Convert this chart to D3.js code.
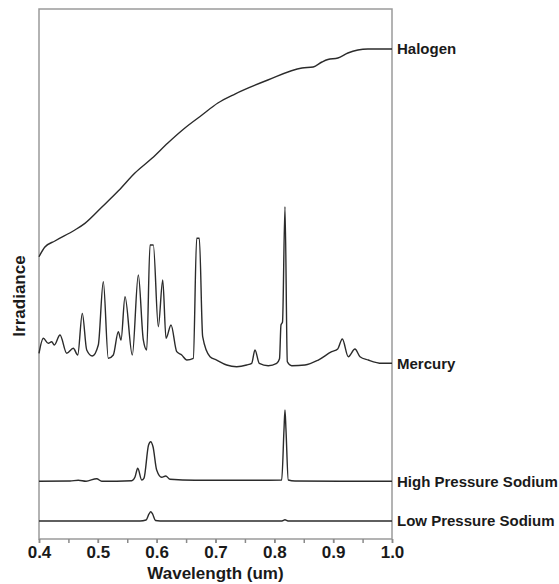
<!DOCTYPE html>
<html>
<head>
<meta charset="utf-8">
<script src="https://cdn.jsdelivr.net/npm/d3@7/dist/d3.min.js"></script>
<style>
  html, body { margin: 0; padding: 0; background: #fff; }
  svg { display: block; }
  text { font-family: "Liberation Sans", Arial, Helvetica, sans-serif; font-weight: bold; fill: #1a1a1a; }
</style>
</head>
<body>
<svg id="chart" width="559" height="584"></svg>
<script>
// ---------- data (wavelength in um, irradiance in stacked arbitrary units) ----------
const xTicks = [0.4, 0.5, 0.6, 0.7, 0.8, 0.9, 1.0];
const xTickLabels = ["0.4", "0.5", "0.6", "0.7", "0.8", "0.9", "1.0"];
const seriesNames = ["Halogen", "Mercury", "High Pressure Sodium", "Low Pressure Sodium"];

const halogenWl  = [0.400,0.410,0.427,0.461,0.478,0.507,0.535,0.563,0.592,0.619,0.648,0.677,0.704,0.733,0.789,0.847,0.866,0.881,0.891,0.908,0.925,0.959,1.000];
const halogenVal = [53.26,55.09,56.23,58.30,59.55,62.64,65.70,69.06,71.83,74.72,77.55,80.00,82.26,83.96,86.60,88.87,89.06,90.00,90.47,90.75,91.70,92.45,92.45];

const mercuryWl  = [0.4000,0.4073,0.4158,0.4216,0.4260,0.4357,0.4471,0.4583,0.4658,0.4736,0.4811,0.4906,0.5008,0.5093,0.5178,0.5263,0.5348,0.5394,0.5462,0.5586,0.5688,0.5773,0.5831,0.5887,0.5943,0.6028,0.6103,0.6159,0.6244,0.6341,0.6426,0.6511,0.6623,0.6680,0.6725,0.6782,0.6907,0.7020,0.7190,0.7360,0.7530,0.7615,0.7671,0.7744,0.7897,0.8040,0.8088,0.8113,0.8139,0.8181,0.8221,0.8295,0.8521,0.8747,0.8975,0.9077,0.9155,0.9257,0.9371,0.9456,0.9597,0.9825,1.0000];
const mercuryVal = [35.04,37.87,36.92,37.23,36.60,38.49,35.04,35.98,34.72,42.58,35.66,34.53,36.60,48.55,34.09,34.72,39.11,37.55,45.72,34.72,49.81,37.55,35.66,55.47,55.47,40.06,48.87,37.87,40.38,35.34,34.72,33.77,34.09,56.74,56.74,38.17,34.40,33.77,32.83,32.51,32.83,33.15,35.66,33.15,32.70,33.15,34.00,40.38,40.94,62.70,33.45,32.70,32.83,33.77,35.34,35.85,37.74,34.40,35.85,34.40,33.77,33.15,33.15];

const hpsWl  = [0.4000,0.4527,0.4668,0.4799,0.4981,0.5066,0.5576,0.5632,0.5678,0.5746,0.5785,0.5861,0.5899,0.5938,0.6000,0.6086,0.6154,0.6227,0.6652,0.7247,0.7672,0.8125,0.8164,0.8181,0.8198,0.8237,0.8351,0.9116,1.0000];
const hpsVal = [10.89,10.94,11.09,10.90,11.38,10.89,11.00,11.70,13.34,11.13,11.50,17.70,18.36,17.40,13.02,11.64,11.89,11.26,11.08,11.08,11.08,11.13,20.60,24.34,20.60,11.13,10.94,10.89,10.89];

const lpsWl  = [0.4000,0.5717,0.5819,0.5870,0.5899,0.5930,0.5980,0.6057,0.8130,0.8181,0.8232,1.0000];
const lpsVal = [3.40,3.40,3.58,4.72,5.15,4.72,3.49,3.40,3.40,3.62,3.40,3.40];

const seriesWl  = [halogenWl, mercuryWl, hpsWl, lpsWl];
const seriesVal = [halogenVal, mercuryVal, hpsVal, lpsVal];

// ---------- layout ----------
const svg = d3.select("#chart");
const mLeft = 39, mRight = 392, mTop = 9, mBottom = 539;

const x = d3.scaleLinear().domain([0.4, 1.0]).range([mLeft, mRight]);
const y = d3.scaleLinear().domain([0, 100]).range([mBottom, mTop]);

// frame
svg.append("rect")
  .attr("x", mLeft).attr("y", mTop)
  .attr("width", mRight - mLeft).attr("height", mBottom - mTop)
  .attr("fill", "none").attr("stroke", "#9a9a9a").attr("stroke-width", 1.5);

// x axis: minor ticks
const minorTicks = d3.range(0.4, 1.0001, 0.05);
const gx = svg.append("g").attr("transform", `translate(0,${mBottom})`)
  .call(d3.axisBottom(x).tickValues(minorTicks).tickSize(4).tickFormat(""));
gx.select(".domain").remove();
gx.selectAll(".tick line").attr("stroke", "#8a8a8a").attr("stroke-width", 1.5);

// x axis: major ticks + labels
const gxl = svg.append("g").attr("transform", `translate(0,${mBottom})`)
  .call(d3.axisBottom(x).tickValues(xTicks).tickSize(4).tickPadding(3)
    .tickFormat((d, i) => xTickLabels[i]));
gxl.select(".domain").remove();
gxl.selectAll(".tick line").attr("stroke", "#8a8a8a").attr("stroke-width", 1.5);
gxl.selectAll(".tick text")
  .attr("font-size", 17).attr("font-family", "Liberation Sans, Arial, sans-serif")
  .attr("font-weight", "bold").attr("fill", "#1a1a1a");

// axis titles
svg.append("text")
  .attr("x", (mLeft + mRight) / 2).attr("y", 579)
  .attr("text-anchor", "middle").attr("font-size", 17)
  .text("Wavelength (um)");

svg.append("text")
  .attr("transform", "translate(25,296) rotate(-90)")
  .attr("text-anchor", "middle").attr("font-size", 17)
  .text("Irradiance");

// curves
const line = d3.line()
  .x(d => x(d[0])).y(d => y(d[1]))
  .curve(d3.curveMonotoneX);

seriesNames.forEach((name, i) => {
  const pts = seriesWl[i].map((w, j) => [w, seriesVal[i][j]]);
  svg.append("path")
    .datum(pts)
    .attr("d", line)
    .attr("fill", "none")
    .attr("stroke", "#2b2b2b")
    .attr("stroke-width", 1.4)
    .attr("stroke-linejoin", "round");
  const last = pts[pts.length - 1];
  svg.append("text")
    .attr("x", mRight + 5).attr("y", y(last[1]))
    .attr("dy", "0.36em")
    .attr("font-size", 15)
    .text(name);
});
</script>
</body>
</html>
